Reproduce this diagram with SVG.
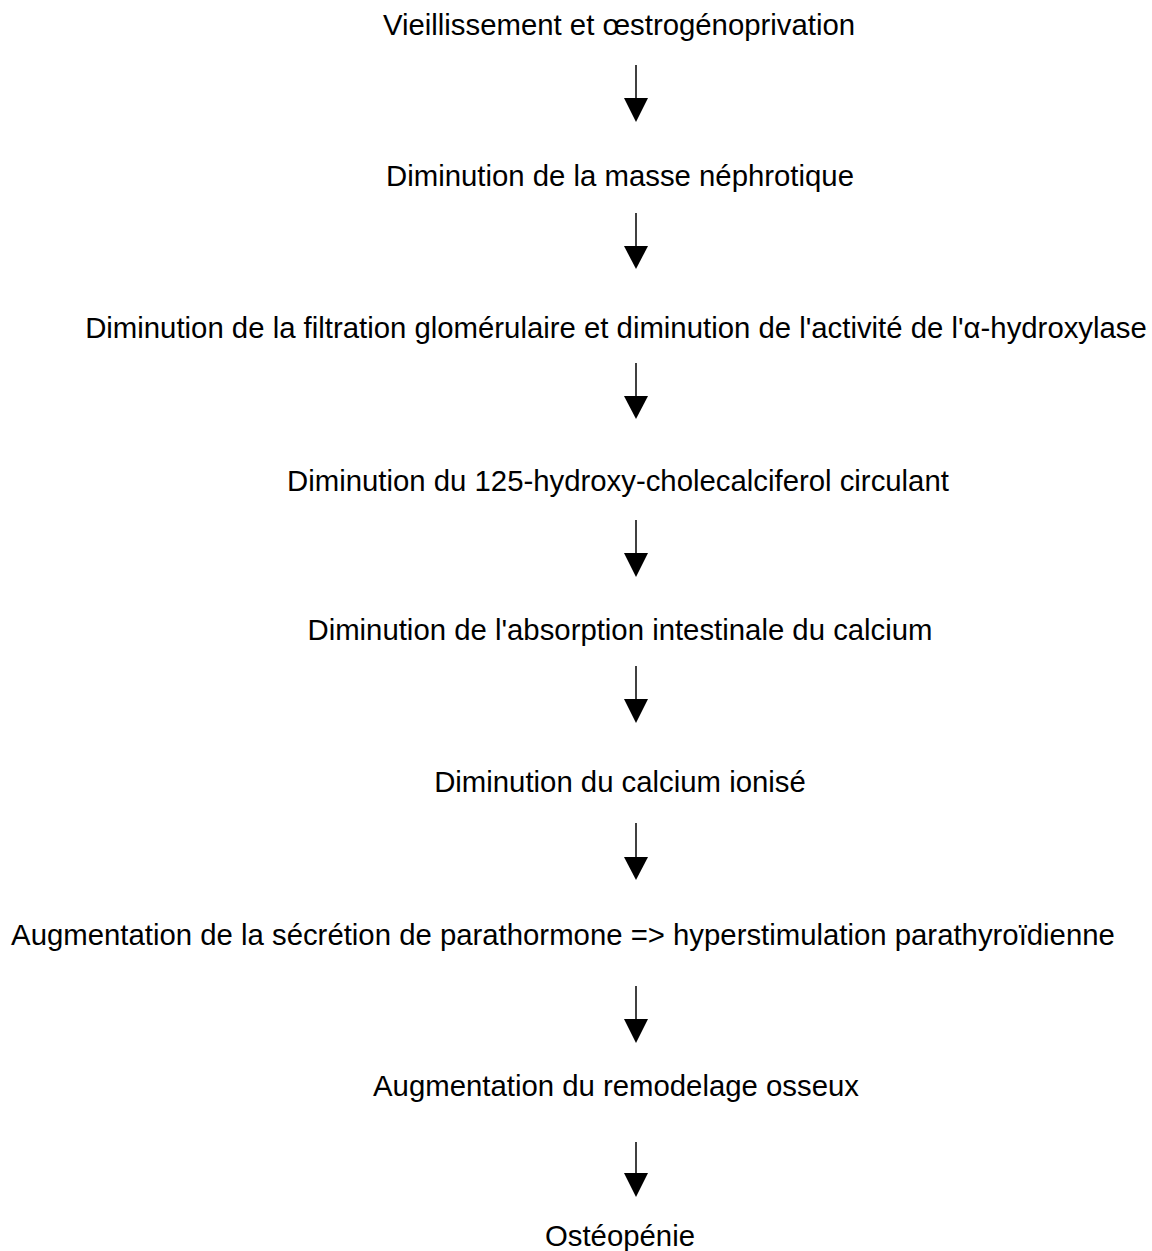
<svg xmlns="http://www.w3.org/2000/svg" width="1152" height="1251" viewBox="0 0 1152 1251">
<style>
text{font-family:"Liberation Sans",Arial,sans-serif;font-size:29.33px;fill:#000;text-anchor:middle}
.ln{stroke:#000;stroke-width:1.5;fill:none}
.hd{fill:#000;stroke:none}
</style>
<rect width="1152" height="1251" fill="#fff"/>
<g id="n1"><text x="619" y="35">Vieillissement et œstrogénoprivation</text></g>
<g id="n2"><text x="620" y="186">Diminution de la masse néphrotique</text></g>
<g id="n3"><text x="616" y="338">Diminution de la filtration glomérulaire et diminution de l'activité de l'α-hydroxylase</text></g>
<g id="n4"><text x="618" y="491">Diminution du 125-hydroxy-cholecalciferol circulant</text></g>
<g id="n5"><text x="620" y="640">Diminution de l'absorption intestinale du calcium</text></g>
<g id="n6"><text x="620" y="792">Diminution du calcium ionisé</text></g>
<g id="n7"><text x="563" y="945">Augmentation de la sécrétion de parathormone =&gt; hyperstimulation parathyroïdienne</text></g>
<g id="n8"><text x="616" y="1096">Augmentation du remodelage osseux</text></g>
<g id="n9"><text x="620" y="1246">Ostéopénie</text></g>
<g id="connectors">
<line class="ln" x1="636" y1="65" x2="636" y2="99"/><path class="hd" d="M624 98 L648 98 L636 122 Z"/>
<line class="ln" x1="636" y1="213" x2="636" y2="247"/><path class="hd" d="M624 246 L648 246 L636 269 Z"/>
<line class="ln" x1="636" y1="363" x2="636" y2="397"/><path class="hd" d="M624 396 L648 396 L636 419 Z"/>
<line class="ln" x1="636" y1="520" x2="636" y2="554"/><path class="hd" d="M624 553 L648 553 L636 577 Z"/>
<line class="ln" x1="636" y1="666" x2="636" y2="700"/><path class="hd" d="M624 699 L648 699 L636 723 Z"/>
<line class="ln" x1="636" y1="823" x2="636" y2="858"/><path class="hd" d="M624 857 L648 857 L636 880 Z"/>
<line class="ln" x1="636" y1="986" x2="636" y2="1020"/><path class="hd" d="M624 1019 L648 1019 L636 1043 Z"/>
<line class="ln" x1="636" y1="1142" x2="636" y2="1174"/><path class="hd" d="M624 1173 L648 1173 L636 1197 Z"/>
</g>
</svg>
